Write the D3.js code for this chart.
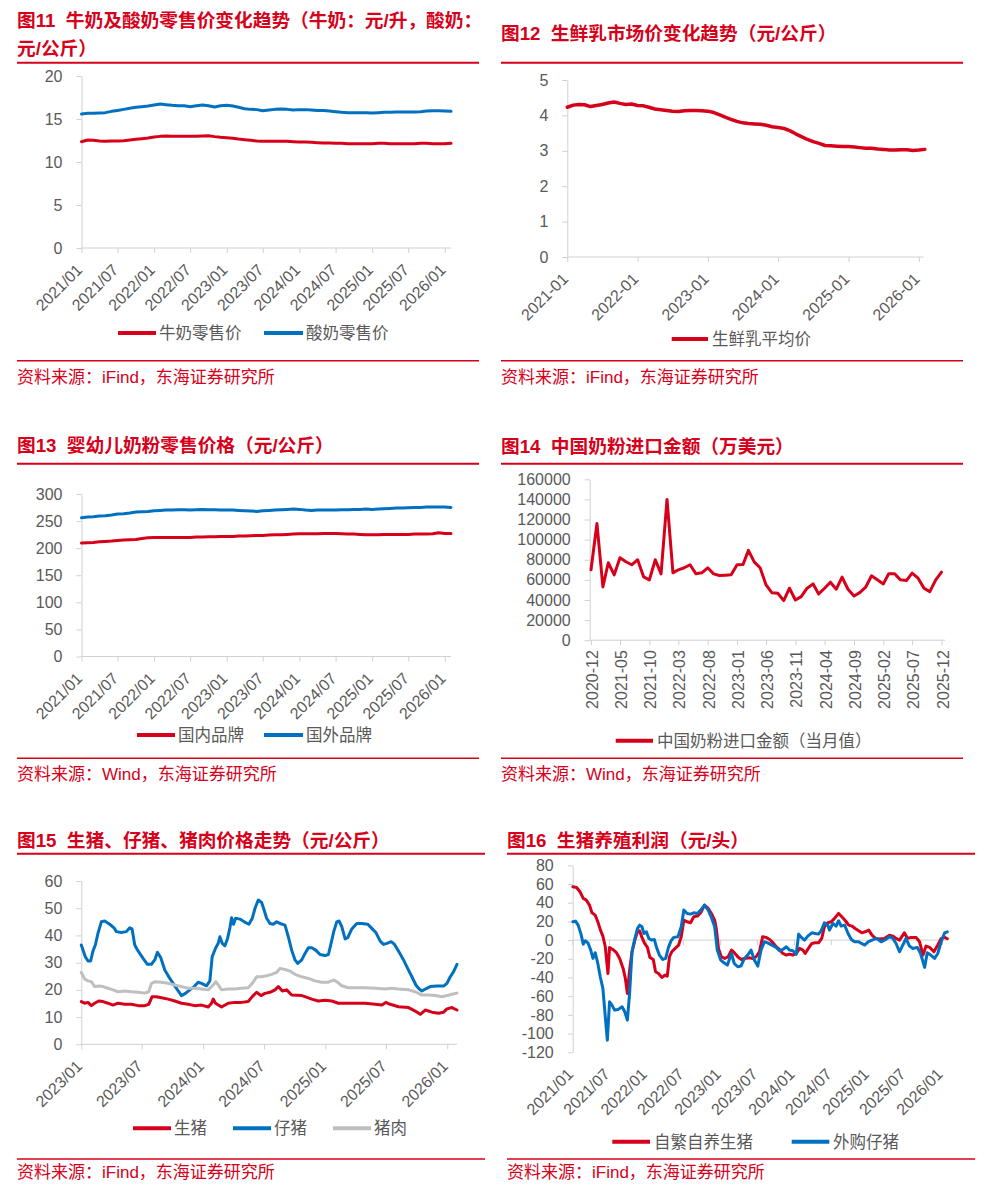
<!DOCTYPE html>
<html>
<head>
<meta charset="utf-8">
<script src="https://cdn.jsdelivr.net/npm/d3@7"></script>
<style>
  body { margin: 0; background: #fff; }
  text { font-family: "Liberation Sans", Arial, "Noto Sans CJK SC", sans-serif; }
</style>
</head>
<body>
<script>
const parse = d3.timeParse("%Y-%m-%d");

// ---- 图11 / 图12 / 图13: monthly, 2021-01 .. 2026-02
const months2021 = d3.timeMonth.range(new Date(2021, 0, 1), new Date(2026, 1, 2));

const milkPrice = [
  12.36,12.56,12.52,12.44,12.40,12.44,12.44,12.48,12.56,12.64,12.71,12.79,
  12.91,12.98,13.02,12.98,12.98,12.98,12.98,12.98,13.02,13.06,12.95,12.87,
  12.83,12.75,12.67,12.60,12.52,12.44,12.40,12.40,12.40,12.40,12.40,12.36,
  12.33,12.33,12.29,12.25,12.21,12.21,12.17,12.17,12.13,12.13,12.13,12.13,
  12.13,12.17,12.17,12.13,12.13,12.13,12.13,12.13,12.17,12.17,12.13,12.13,
  12.13,12.17];
const yogurtPrice = [
  15.58,15.66,15.66,15.70,15.74,15.89,16.00,16.12,16.24,16.36,16.43,16.51,
  16.63,16.74,16.67,16.59,16.55,16.55,16.43,16.55,16.63,16.55,16.40,16.55,
  16.59,16.51,16.36,16.20,16.12,16.09,15.97,16.05,16.12,16.16,16.12,16.05,
  16.09,16.09,16.05,16.00,16.00,15.93,15.85,15.78,15.74,15.74,15.74,15.74,
  15.70,15.74,15.78,15.78,15.81,15.81,15.81,15.81,15.85,15.93,15.97,15.97,
  15.93,15.89];
const rawMilkPrice = [
  4.23,4.29,4.31,4.30,4.25,4.28,4.31,4.35,4.38,4.34,4.31,4.32,
  4.28,4.27,4.23,4.18,4.16,4.14,4.12,4.11,4.13,4.14,4.14,4.13,
  4.12,4.08,4.02,3.95,3.89,3.83,3.79,3.77,3.76,3.75,3.72,3.68,
  3.66,3.63,3.57,3.48,3.40,3.32,3.26,3.21,3.15,3.14,3.13,3.12,
  3.12,3.11,3.09,3.07,3.07,3.05,3.04,3.02,3.02,3.03,3.03,3.01,
  3.02,3.04];
const domesticFormula = [
  209.4,210.0,210.6,211.8,212.4,213.1,214.3,214.9,215.5,216.1,218.0,219.2,
  219.8,219.8,219.8,219.8,219.8,219.8,219.8,220.4,220.4,221.1,221.1,221.7,
  221.7,221.7,222.3,222.3,222.9,223.5,223.5,224.1,224.8,224.8,225.4,226.0,
  226.6,226.6,226.6,226.6,227.2,227.2,227.2,226.6,226.0,226.0,225.4,224.8,
  224.8,224.8,225.4,225.4,225.4,225.4,225.4,226.0,226.0,226.0,226.6,228.4,
  227.2,227.2];
const foreignFormula = [
  256.2,257.4,258.0,259.2,259.9,261.1,262.9,263.5,264.8,266.6,267.2,267.9,
  269.1,269.7,270.3,270.3,270.9,270.9,270.3,270.9,271.6,270.9,270.9,270.3,
  270.3,270.3,269.7,269.1,268.5,267.9,269.1,269.7,270.3,270.9,271.6,272.2,
  271.6,270.3,269.7,270.3,270.3,270.3,270.3,270.9,270.9,271.6,271.6,272.2,
  271.6,272.2,272.8,273.4,274.0,274.0,274.6,275.2,275.2,275.9,275.9,275.9,
  275.9,275.2];

// ---- 图14: monthly, 2020-12 .. 2025-12
const importMonths = d3.timeMonth.range(new Date(2020, 11, 1), new Date(2025, 11, 2));
const formulaImport = [
  70000,116000,53000,77000,65000,82000,78000,75000,80000,63000,
  60000,80000,66000,140000,67000,70000,72000,75000,66000,67000,
  72000,66000,64300,64700,65000,75000,75300,89300,77700,72000,
  55000,47300,46700,39300,51700,40000,43300,51700,56000,46000,
  51700,57700,50700,62700,50700,44000,47300,52700,64000,60000,
  56000,66000,66000,60000,59300,66700,61700,51700,48300,60000,
  67700];

// ---- 图15: 生猪 / 仔猪 / 猪肉 (元/公斤)
const livePig = [
  ["2023-01-01",15.7],["2023-01-11",15.1],["2023-01-21",15.4],["2023-01-31",14.2],["2023-02-10",15.1],
  ["2023-02-22",15.9],["2023-03-07",15.7],["2023-03-22",15.1],["2023-04-06",14.4],["2023-04-21",15.1],
  ["2023-05-11",14.7],["2023-05-31",14.7],["2023-06-20",14.2],["2023-07-10",14.2],["2023-07-22",14.7],
  ["2023-08-01",17.5],["2023-08-14",17.5],["2023-08-29",17.1],["2023-09-18",16.6],["2023-10-08",15.9],
  ["2023-10-28",15.1],["2023-11-17",14.7],["2023-12-07",14.2],["2023-12-27",14.4],["2024-01-16",13.7],
  ["2024-01-26",15.1],["2024-01-31",16.6],["2024-02-07",15.1],["2024-02-25",13.7],["2024-03-16",15.1],
  ["2024-04-05",15.4],["2024-04-25",15.4],["2024-05-15",15.7],["2024-05-27",17.5],["2024-06-09",19.1],
  ["2024-06-22",17.9],["2024-07-04",18.7],["2024-07-19",19.1],["2024-08-03",20.0],["2024-08-13",21.2],
  ["2024-08-25",19.6],["2024-09-07",20.0],["2024-09-22",18.1],["2024-10-22",17.9],["2024-11-01",17.5],
  ["2024-11-21",16.6],["2024-12-11",15.9],["2024-12-31",16.2],["2025-01-20",15.9],["2025-02-09",15.1],
  ["2025-03-11",15.1],["2025-03-31",15.1],["2025-04-30",15.1],["2025-05-30",14.7],["2025-06-19",14.4],
  ["2025-07-01",15.4],["2025-07-14",14.7],["2025-08-08",13.8],["2025-09-07",13.5],["2025-09-27",12.2],
  ["2025-10-12",11.0],["2025-10-27",12.6],["2025-11-16",11.8],["2025-12-06",11.4],["2025-12-21",11.8],
  ["2025-12-31",13.0],["2026-01-15",13.5],["2026-01-30",12.6]];
const piglet = [
  ["2023-01-01",36.5],["2023-01-13",32.2],["2023-01-21",30.6],["2023-01-29",30.6],["2023-02-05",34.3],
  ["2023-02-12",36.5],["2023-02-20",40.8],["2023-03-02",45.0],["2023-03-12",45.3],["2023-03-27",44.1],
  ["2023-04-09",42.8],["2023-04-16",41.4],["2023-05-01",41.1],["2023-05-16",41.4],["2023-05-26",42.8],
  ["2023-06-02",42.4],["2023-06-10",36.5],["2023-06-20",34.3],["2023-07-05",31.6],["2023-07-18",29.4],
  ["2023-07-30",29.4],["2023-08-09",31.0],["2023-08-17",33.8],["2023-08-27",31.8],["2023-09-08",27.3],
  ["2023-09-20",24.8],["2023-10-03",22.4],["2023-10-16",20.0],["2023-10-28",17.9],["2023-11-09",18.7],
  ["2023-11-22",20.0],["2023-12-05",21.2],["2023-12-17",22.8],["2023-12-27",22.4],["2024-01-11",21.5],
  ["2024-01-21",23.3],["2024-01-28",32.2],["2024-02-07",35.3],["2024-02-15",37.1],["2024-02-20",39.5],
  ["2024-02-27",37.1],["2024-03-06",36.2],["2024-03-14",38.9],["2024-03-21",42.8],["2024-03-26",46.5],
  ["2024-04-01",44.1],["2024-04-07",46.3],["2024-04-20",46.0],["2024-05-03",45.0],["2024-05-17",44.1],
  ["2024-05-27",46.3],["2024-06-04",49.9],["2024-06-14",53.0],["2024-06-24",52.1],["2024-06-30",49.9],
  ["2024-07-09",46.3],["2024-07-19",44.4],["2024-07-29",44.1],["2024-08-08",45.0],["2024-08-18",44.4],
  ["2024-09-02",43.8],["2024-09-12",39.5],["2024-09-22",34.6],["2024-10-02",31.0],["2024-10-10",29.7],
  ["2024-10-22",31.0],["2024-11-01",33.4],["2024-11-11",35.5],["2024-11-21",35.5],["2024-12-03",34.6],
  ["2024-12-16",33.0],["2024-12-31",32.6],["2025-01-10",33.0],["2025-01-18",37.1],["2025-01-26",41.4],
  ["2025-02-04",45.0],["2025-02-11",45.3],["2025-02-19",43.2],["2025-03-01",38.7],["2025-03-09",39.2],
  ["2025-03-21",42.4],["2025-04-05",44.4],["2025-04-20",44.4],["2025-05-08",44.1],["2025-05-20",42.6],
  ["2025-06-01",41.1],["2025-06-14",37.9],["2025-06-24",36.7],["2025-07-04",37.1],["2025-07-17",37.7],
  ["2025-07-27",36.7],["2025-08-10",33.8],["2025-08-23",31.0],["2025-09-05",27.7],["2025-09-17",24.8],
  ["2025-09-29",21.8],["2025-10-09",20.3],["2025-10-17",19.6],["2025-10-27",20.3],["2025-11-11",21.2],
  ["2025-12-01",21.4],["2025-12-21",21.4],["2025-12-31",22.4],["2026-01-10",24.8],["2026-01-20",26.7],
  ["2026-01-30",29.4]];
const pork = [
  ["2023-01-01",26.4],["2023-01-11",24.0],["2023-01-21",23.3],["2023-01-31",23.0],["2023-02-10",21.2],
  ["2023-02-22",21.4],["2023-03-07",21.2],["2023-03-22",20.6],["2023-04-06",20.0],["2023-04-21",19.3],
  ["2023-05-11",19.6],["2023-05-31",19.3],["2023-06-20",19.1],["2023-07-10",18.8],["2023-07-22",19.3],
  ["2023-07-30",22.4],["2023-08-11",23.0],["2023-08-29",22.8],["2023-09-18",22.4],["2023-10-08",21.8],
  ["2023-10-28",21.2],["2023-11-17",20.6],["2023-12-07",20.6],["2023-12-27",20.3],["2024-01-16",20.0],
  ["2024-01-31",21.8],["2024-02-08",23.0],["2024-02-15",21.8],["2024-02-25",20.0],["2024-03-16",20.3],
  ["2024-04-05",20.3],["2024-04-25",20.6],["2024-05-15",20.8],["2024-05-27",22.4],["2024-06-09",24.8],
  ["2024-06-24",24.8],["2024-07-09",25.2],["2024-07-24",25.7],["2024-08-08",26.4],["2024-08-18",27.9],
  ["2024-09-02",27.5],["2024-09-17",26.9],["2024-10-02",25.7],["2024-10-22",24.8],["2024-11-11",24.2],
  ["2024-12-01",23.3],["2024-12-21",22.8],["2025-01-10",22.8],["2025-01-25",23.6],["2025-02-04",23.0],
  ["2025-02-19",21.5],["2025-03-11",20.8],["2025-03-31",20.8],["2025-04-30",20.8],["2025-05-30",20.6],
  ["2025-06-29",20.3],["2025-07-19",20.6],["2025-08-08",20.3],["2025-09-07",20.0],["2025-09-27",19.3],
  ["2025-10-17",18.1],["2025-11-06",18.1],["2025-11-26",17.9],["2025-12-16",17.5],["2025-12-31",17.9],
  ["2026-01-15",18.4],["2026-01-30",18.8]];

// ---- 图16: 生猪养殖利润 (元/头)
const profitSelfBred = [
  ["2021-01-04",57.0],["2021-01-22",56.3],["2021-02-08",51.7],["2021-02-24",44.6],["2021-03-11",42.8],
  ["2021-03-27",37.4],["2021-04-08",29.2],["2021-04-24",26.7],["2021-05-07",19.6],["2021-05-20",10.7],
  ["2021-06-01",4.3],["2021-06-13",-7.1],["2021-06-26",-35.7],["2021-07-04",-7.8],["2021-07-20",-10.0],
  ["2021-08-07",-13.5],["2021-08-23",-19.6],["2021-09-09",-30.3],["2021-09-20",-41.0],["2021-09-30",-57.0],
  ["2021-10-11",-32.1],["2021-10-23",-12.5],["2021-11-06",0],["2021-11-19",8.9],["2021-11-29",10.0],
  ["2021-12-11",2.9],["2021-12-24",-3.6],["2022-01-07",-7.8],["2022-01-19",-18.5],["2022-02-05",-20.7],
  ["2022-02-16",-33.9],["2022-03-03",-35.7],["2022-03-19",-39.9],["2022-04-05",-37.4],["2022-04-15",-38.5],
  ["2022-04-26",-17.8],["2022-05-07",-12.5],["2022-05-24",-8.9],["2022-06-10",-5.3],["2022-06-23",3.6],
  ["2022-07-06",21.4],["2022-07-22",19.6],["2022-08-08",18.5],["2022-08-24",25.0],["2022-09-11",25.7],
  ["2022-09-27",29.2],["2022-10-16",37.4],["2022-11-03",33.9],["2022-11-19",28.5],["2022-12-05",21.4],
  ["2022-12-13",12.5],["2022-12-24",-8.9],["2023-01-07",-17.8],["2023-01-24",-19.6],["2023-02-10",-17.8],
  ["2023-02-26",-10.7],["2023-03-12",-13.5],["2023-03-29",-17.8],["2023-04-14",-20.7],["2023-05-01",-19.6],
  ["2023-05-25",-18.9],["2023-06-11",-19.6],["2023-06-28",-17.8],["2023-07-14",-12.5],["2023-07-30",3.6],
  ["2023-08-16",2.9],["2023-09-03",0.7],["2023-09-19",-2.9],["2023-10-05",-7.1],["2023-10-21",-10.0],
  ["2023-11-07",-14.3],["2023-11-24",-16.0],["2023-12-10",-15.0],["2023-12-26",-16.0],["2024-01-12",-14.3],
  ["2024-01-29",-8.9],["2024-02-14",-10.7],["2024-02-25",-14.3],["2024-03-12",-8.9],["2024-03-29",-3.6],
  ["2024-04-14",-2.9],["2024-05-01",-2.9],["2024-05-17",1.8],["2024-05-30",14.3],["2024-06-16",18.5],
  ["2024-07-03",19.6],["2024-07-19",23.2],["2024-08-08",28.5],["2024-08-24",25.0],["2024-09-11",20.7],
  ["2024-09-27",16.0],["2024-10-13",15.0],["2024-10-29",12.5],["2024-11-15",10.0],["2024-12-01",7.8],
  ["2024-12-17",8.9],["2025-01-04",10.7],["2025-01-20",5.3],["2025-02-07",1.8],["2025-02-27",1.1],
  ["2025-03-22",1.8],["2025-04-16",5.3],["2025-05-03",4.3],["2025-05-19",1.8],["2025-06-05",0],
  ["2025-06-29",7.8],["2025-07-15",1.8],["2025-08-01",2.9],["2025-08-26",2.9],["2025-09-12",-1.8],
  ["2025-09-29",-16.0],["2025-10-14",-6.4],["2025-11-01",-7.8],["2025-11-22",-12.5],["2025-12-11",-5.3],
  ["2025-12-28",1.8],["2026-01-14",2.9],["2026-01-27",1.4]];
const profitBought = [
  ["2021-01-04",19.6],["2021-01-17",20.3],["2021-01-30",16.0],["2021-02-13",6.4],["2021-02-24",-4.3],
  ["2021-03-06",-0.7],["2021-03-19",-2.9],["2021-04-01",-10.0],["2021-04-13",-19.6],["2021-04-24",-13.5],
  ["2021-05-07",-25.0],["2021-05-19",-39.2],["2021-06-01",-51.7],["2021-06-13",-82.0],["2021-06-23",-107.0],
  ["2021-07-04",-66.0],["2021-07-16",-69.5],["2021-07-29",-74.9],["2021-08-15",-74.2],["2021-09-04",-71.3],
  ["2021-09-17",-76.6],["2021-09-30",-85.6],["2021-10-11",-57.0],["2021-10-23",-12.5],["2021-11-06",1.8],
  ["2021-11-19",12.5],["2021-11-30",16.0],["2021-12-11",14.3],["2021-12-21",7.1],["2022-01-02",8.9],
  ["2022-01-14",1.8],["2022-01-27",0],["2022-02-10",0.7],["2022-02-21",-7.8],["2022-03-07",-16.0],
  ["2022-03-24",-20.7],["2022-04-07",-19.6],["2022-04-21",-7.8],["2022-05-04",-0.7],["2022-05-17",2.9],
  ["2022-06-07",3.6],["2022-06-23",14.3],["2022-07-06",32.1],["2022-07-22",28.5],["2022-08-08",27.8],
  ["2022-08-24",29.2],["2022-09-11",28.5],["2022-09-27",32.1],["2022-10-16",37.4],["2022-11-03",32.1],
  ["2022-11-19",24.2],["2022-12-05",14.3],["2022-12-18",-10.7],["2023-01-04",-21.4],["2023-01-20",-24.2],
  ["2023-02-06",-26.7],["2023-02-26",-14.3],["2023-03-12",-25.0],["2023-03-29",-28.5],["2023-04-14",-27.8],
  ["2023-05-01",-19.6],["2023-05-17",-16.0],["2023-06-03",-10.7],["2023-06-19",-21.4],["2023-07-06",-27.8],
  ["2023-07-22",-10.7],["2023-08-08",-1.8],["2023-08-24",-2.9],["2023-09-14",-5.3],["2023-10-05",-7.8],
  ["2023-10-21",-11.4],["2023-11-07",-10.0],["2023-11-24",-7.1],["2023-12-10",-10.7],["2023-12-26",-11.4],
  ["2024-01-12",-15.0],["2024-01-24",6.4],["2024-02-06",2.9],["2024-02-22",0],["2024-03-09",4.3],
  ["2024-03-29",7.8],["2024-04-14",7.1],["2024-05-01",6.4],["2024-05-14",10.0],["2024-05-30",18.5],
  ["2024-06-16",16.0],["2024-06-24",10.7],["2024-07-11",17.8],["2024-07-27",15.0],["2024-08-08",20.7],
  ["2024-08-21",15.0],["2024-09-07",16.0],["2024-09-24",7.1],["2024-10-10",0.7],["2024-10-26",-1.8],
  ["2024-11-15",-1.8],["2024-11-29",-3.6],["2024-12-15",-5.3],["2025-01-01",-1.8],["2025-01-20",0],
  ["2025-02-12",1.8],["2025-03-06",-1.8],["2025-03-30",0.7],["2025-04-16",3.6],["2025-05-03",1.8],
  ["2025-05-19",-3.6],["2025-06-05",-12.5],["2025-06-21",-5.3],["2025-07-07",1.8],["2025-07-24",-6.4],
  ["2025-08-10",-8.9],["2025-09-01",-7.8],["2025-09-17",-14.3],["2025-10-07",-29.2],["2025-10-20",-13.5],
  ["2025-11-06",-16.0],["2025-11-25",-19.6],["2025-12-11",-14.3],["2025-12-28",-1.8],["2026-01-14",7.8],
  ["2026-01-27",8.9]];

const RED = "#d7001b", BLUE = "#0070c0", GREY = "#bfbfbf", AXIS = "#d0d0d0", INK = "#595959";

const monthly = (cats, vals) => cats.map((m, i) => [m, vals[i]]);
const daily = rows => rows.map(d => [parse(d[0]), d[1]]);
const halfYears = (a, b) => d3.timeMonth.every(6).range(a, b);

const svg = d3.select("body").append("svg")
  .attr("width", 986).attr("height", 1202)
  .style("display", "block");

function panel(p) {
  const g = svg.append("g");

  // titles, rules, source
  p.title.forEach(t => g.append("text")
    .attr("x", p.left).attr("y", t[1])
    .attr("dominant-baseline", "central")
    .attr("fill", RED).attr("font-size", 18.7).attr("font-weight", "bold")
    .style("white-space", "pre")
    .text(t[0]));
  g.append("line").attr("x1", p.left).attr("x2", p.right)
    .attr("y1", p.topRule).attr("y2", p.topRule)
    .attr("stroke", RED).attr("stroke-width", 2);
  g.append("line").attr("x1", p.left).attr("x2", p.right)
    .attr("y1", p.bottomRule).attr("y2", p.bottomRule)
    .attr("stroke", RED).attr("stroke-width", 1.5);
  g.append("text").attr("x", p.left).attr("y", p.sourceY)
    .attr("dominant-baseline", "central")
    .attr("fill", RED).attr("font-size", 17)
    .text(p.source);

  const x = d3.scaleTime().domain(p.xDomain).range(p.xRange);
  const y = d3.scaleLinear().domain(p.yDomain).range(p.yRange);

  // y axis
  g.append("g")
    .attr("transform", `translate(${p.yAxisX},0)`)
    .call(d3.axisLeft(y).tickValues(p.yTicks).tickFormat(d => String(d))
      .tickSize(5).tickSizeOuter(0).tickPadding(14))
    .call(a => a.attr("font-size", null).attr("font-family", null))
    .call(a => a.selectAll("path,line").attr("stroke", AXIS))
    .call(a => a.selectAll("text").attr("fill", INK).attr("font-size", 16));

  // x axis (line at crossing value, labels at the bottom)
  const crossY = y(p.xCross);
  const labelY = y(p.yDomain[0]);
  g.append("line")
    .attr("x1", p.yAxisX).attr("x2", p.xAxisEnd)
    .attr("y1", crossY).attr("y2", crossY)
    .attr("stroke", AXIS);
  g.append("g")
    .attr("transform", `translate(0,${crossY})`)
    .call(d3.axisBottom(x).tickValues(p.xTicks).tickFormat("").tickSize(5).tickSizeOuter(0))
    .call(a => a.select(".domain").remove())
    .call(a => a.selectAll("line").attr("stroke", AXIS));

  const fmt = d3.timeFormat(p.xFmt);
  const off = p.angle === -90 ? [1.5, 10] : [-2, 19];
  g.append("g").selectAll("text")
    .data(p.xTicks)
    .join("text")
      .attr("transform", d => `translate(${x(d) + off[0]},${labelY + off[1]}) rotate(${p.angle})`)
      .attr("text-anchor", "end")
      .attr("dominant-baseline", "central")
      .attr("fill", INK).attr("font-size", 16)
      .text(fmt);

  // series
  const line = d3.line().x(d => x(d[0])).y(d => y(d[1]));
  g.append("g")
    .attr("fill", "none")
    .attr("stroke-linejoin", "round")
    .attr("stroke-linecap", "round")
  .selectAll("path")
  .data(p.series)
  .join("path")
    .attr("stroke", s => s.color)
    .attr("stroke-width", p.lineWidth || 3)
    .attr("d", s => line(s.data));

  // legend
  const lg = g.append("g").selectAll("g").data(p.legend).join("g");
  lg.append("line")
    .attr("x1", d => d[0]).attr("x2", d => d[1])
    .attr("y1", p.legendY).attr("y2", p.legendY)
    .attr("stroke", d => d[4]).attr("stroke-width", 4);
  lg.append("text")
    .attr("x", d => d[2]).attr("y", p.legendY)
    .attr("dominant-baseline", "central")
    .attr("fill", INK).attr("font-size", 16.5)
    .text(d => d[3]);
}

// 图11
panel({
  left: 17, right: 479, topRule: 62.7, bottomRule: 360.7, sourceY: 377.5,
  title: [["图11  牛奶及酸奶零售价变化趋势（牛奶：元/升，酸奶：", 20], ["元/公斤）", 48]],
  source: "资料来源：iFind，东海证券研究所",
  xDomain: [new Date(2021, 0, 1), new Date(2026, 1, 1)], xRange: [81.5, 451],
  yDomain: [0, 20], yRange: [248, 76], yTicks: [0, 5, 10, 15, 20],
  yAxisX: 81.5, xAxisEnd: 451, xCross: 0,
  xTicks: halfYears(new Date(2021, 0, 1), new Date(2026, 0, 2)), xFmt: "%Y/%m", angle: -45,
  series: [{data: monthly(months2021, milkPrice), color: RED},
           {data: monthly(months2021, yogurtPrice), color: BLUE}],
  legendY: 333,
  legend: [[118, 156, 159, "牛奶零售价", RED], [264, 303, 306, "酸奶零售价", BLUE]]
});

// 图12
panel({
  left: 501, right: 963, topRule: 62.7, bottomRule: 360.7, sourceY: 377.5,
  title: [["图12  生鲜乳市场价变化趋势（元/公斤）", 33]],
  source: "资料来源：iFind，东海证券研究所",
  xDomain: [new Date(2021, 0, 1), new Date(2026, 1, 1)], xRange: [567.3, 924.8],
  yDomain: [0, 5], yRange: [257, 80], yTicks: [0, 1, 2, 3, 4, 5],
  yAxisX: 567.3, xAxisEnd: 923.5, xCross: 0,
  xTicks: d3.timeYear.range(new Date(2021, 0, 1), new Date(2026, 0, 2)), xFmt: "%Y-%m", angle: -45,
  series: [{data: monthly(months2021, rawMilkPrice), color: RED}],
  lineWidth: 3.5,
  legendY: 339,
  legend: [[671.7, 708, 712, "生鲜乳平均价", RED]]
});

// 图13
panel({
  left: 17, right: 479, topRule: 463.7, bottomRule: 758.3, sourceY: 774,
  title: [["图13  婴幼儿奶粉零售价格（元/公斤）", 445]],
  source: "资料来源：Wind，东海证券研究所",
  xDomain: [new Date(2021, 0, 1), new Date(2026, 1, 1)], xRange: [81.5, 451],
  yDomain: [0, 300], yRange: [656.5, 494], yTicks: [0, 50, 100, 150, 200, 250, 300],
  yAxisX: 81.5, xAxisEnd: 451, xCross: 0,
  xTicks: halfYears(new Date(2021, 0, 1), new Date(2026, 0, 2)), xFmt: "%Y/%m", angle: -45,
  series: [{data: monthly(months2021, domesticFormula), color: RED},
           {data: monthly(months2021, foreignFormula), color: BLUE}],
  legendY: 735,
  legend: [[137, 175, 178, "国内品牌", RED], [264, 303, 306, "国外品牌", BLUE]]
});

// 图14
panel({
  left: 501, right: 963, topRule: 463.7, bottomRule: 758.3, sourceY: 774,
  title: [["图14  中国奶粉进口金额（万美元）", 446]],
  source: "资料来源：Wind，东海证券研究所",
  xDomain: [importMonths[0], importMonths[importMonths.length - 1]], xRange: [591, 941.5],
  yDomain: [0, 160000], yRange: [640.2, 479.3],
  yTicks: [0, 20000, 40000, 60000, 80000, 100000, 120000, 140000, 160000],
  yAxisX: 589.7, xAxisEnd: 945, xCross: 0,
  xTicks: importMonths.filter((d, i) => i % 5 === 0), xFmt: "%Y-%m", angle: -90,
  series: [{data: monthly(importMonths, formulaImport), color: RED}],
  legendY: 740.7,
  legend: [[615.7, 653, 657, "中国奶粉进口金额（当月值）", RED]]
});

// 图15
panel({
  left: 17, right: 485, topRule: 853.7, bottomRule: 1159, sourceY: 1172.3,
  title: [["图15  生猪、仔猪、猪肉价格走势（元/公斤）", 840]],
  source: "资料来源：iFind，东海证券研究所",
  xDomain: [new Date(2023, 0, 1), new Date(2026, 0, 31)], xRange: [81.3, 457.3],
  yDomain: [0, 60], yRange: [1044.3, 881], yTicks: [0, 10, 20, 30, 40, 50, 60],
  yAxisX: 81.3, xAxisEnd: 457, xCross: 0,
  xTicks: halfYears(new Date(2023, 0, 1), new Date(2026, 0, 2)), xFmt: "%Y/%m", angle: -45,
  series: [{data: daily(livePig), color: RED},
           {data: daily(piglet), color: BLUE},
           {data: daily(pork), color: GREY}],
  legendY: 1128.3,
  legend: [[133, 171, 174, "生猪", RED], [233, 271, 274, "仔猪", BLUE], [333, 371, 374, "猪肉", GREY]]
});

// 图16
panel({
  left: 507, right: 975, topRule: 853.7, bottomRule: 1159, sourceY: 1172.3,
  title: [["图16  生猪养殖利润（元/头）", 840]],
  source: "资料来源：iFind，东海证券研究所",
  xDomain: [new Date(2021, 0, 1), new Date(2026, 0, 28)], xRange: [572.3, 947.5],
  yDomain: [-120, 80], yRange: [1052.3, 865.3],
  yTicks: [-120, -100, -80, -60, -40, -20, 0, 20, 40, 60, 80],
  yAxisX: 572.7, xAxisEnd: 947, xCross: 0,
  xTicks: halfYears(new Date(2021, 0, 1), new Date(2026, 0, 2)), xFmt: "%Y/%m", angle: -45,
  series: [{data: daily(profitSelfBred), color: RED},
           {data: daily(profitBought), color: BLUE}],
  legendY: 1141.7,
  legend: [[612.3, 650, 654, "自繁自养生猪", RED], [791.7, 829.3, 833, "外购仔猪", BLUE]]
});
</script>
</body>
</html>
